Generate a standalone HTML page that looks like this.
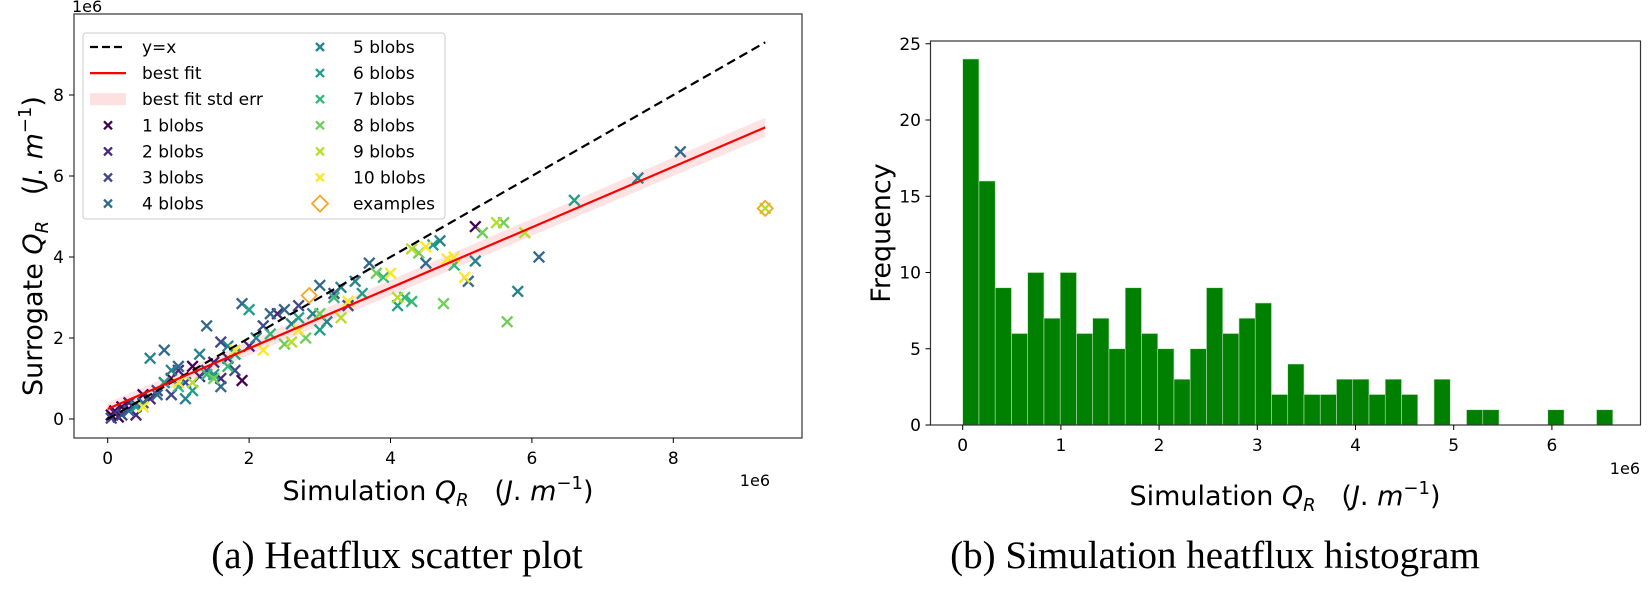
<!DOCTYPE html>
<html><head><meta charset="utf-8"><style>
body{margin:0;background:#fff}
svg{display:block;font-family:"DejaVu Sans","Liberation Sans",sans-serif}
</style></head><body>
<svg id="s" width="1650" height="589" viewBox="0 0 1650 589" xmlns="http://www.w3.org/2000/svg">
<g id="left"></g>
<g id="right"></g>
<text x="397" y="568" font-family="Liberation Serif,serif" font-size="39" text-anchor="middle">(a)  Heatflux scatter plot</text>
<text x="1215" y="568" font-family="Liberation Serif,serif" font-size="39" text-anchor="middle">(b)  Simulation heatflux histogram</text>
</svg>
<script>
const blobColors=["#440154","#482878","#3e4989","#31688e","#26828e","#1f9e89","#35b779","#6ece58","#b5de2b","#fde725"];
const blob1=[[0.05,0.1],[0.1,0.2],[0.2,0.3],[0.3,0.25],[0.5,0.6],[0.9,1.0],[1.2,1.3],[1.9,0.95],[5.2,4.75],[0.15,0.05]];
const blob2=[[0.1,0.15],[0.3,0.4],[0.6,0.5],[0.8,0.9],[1.0,1.2],[1.3,1.05],[1.5,1.4],[1.7,1.5],[2.0,1.8],[2.4,2.6],[1.6,1.0],[0.4,0.1]];
const blob3=[[0.05,0.02],[0.2,0.1],[0.4,0.35],[0.7,0.7],[1.1,0.9],[1.4,1.2],[1.8,1.2],[2.2,2.3],[3.2,3.1],[3.4,2.8],[0.9,0.6],[1.6,1.9],[2.7,2.8]];
const blob4=[[0.3,0.2],[0.5,0.4],[0.8,1.7],[0.7,0.6],[1.0,1.3],[1.4,2.3],[1.9,2.85],[2.5,2.7],[3.0,3.3],[3.7,3.85],[4.5,3.85],[5.1,3.4],[8.1,6.6],[6.1,4.0],[1.6,0.8],[2.3,2.6]];
const blob5=[[0.6,1.5],[0.9,1.2],[1.3,1.6],[1.7,1.8],[2.1,2.0],[2.6,2.35],[3.1,2.4],[3.3,3.25],[3.5,3.4],[4.7,4.4],[5.2,3.9],[5.8,3.15],[7.5,5.95],[2.9,2.6],[1.1,0.5]];
const blob6=[[0.4,0.3],[0.8,0.9],[1.2,0.7],[1.5,1.1],[2.0,2.7],[2.7,2.5],[3.0,2.2],[3.6,3.1],[4.1,2.8],[4.6,4.3],[6.6,5.4],[1.8,1.6]];
const blob7=[[1.0,0.8],[1.4,1.1],[2.3,2.1],[3.2,3.0],[3.9,3.5],[4.2,3.0],[4.9,3.8],[4.3,2.9],[1.7,1.3]];
const blob8=[[1.5,1.0],[2.5,1.85],[3.0,2.6],[3.8,3.6],[4.4,4.1],[4.75,2.85],[5.6,4.85],[5.65,2.4],[5.3,4.6],[2.8,2.0]];
const blob9=[[1.2,0.9],[2.6,1.9],[3.3,2.5],[4.1,3.0],[5.5,4.85],[5.9,4.6],[4.3,4.2],[9.3,5.2]];
const blob10=[[0.5,0.3],[1.0,0.9],[1.8,1.7],[2.7,2.2],[3.4,2.9],[4.0,3.6],[4.5,4.25],[4.9,4.0],[5.05,3.5],[4.8,3.95],[2.2,1.7]];
const examples=[[2.85,3.05],[9.3,5.2]];
const fitStart=[0,0.25], fitEnd=[9.3,7.2], fitErr=0.15;
const xTicks=[0,2,4,6,8], yTicks=[0,2,4,6,8];
const histCounts=[24,16,9,6,10,7,10,6,7,5,9,6,5,3,5,9,6,7,8,2,4,2,2,3,3,2,3,2,0,3,0,1,1,0,0,0,1,0,0,1];
const histBinWidth=0.1655;
const histXTicks=[0,1,2,3,4,5,6], histYTicks=[0,5,10,15,20,25];
const NS="http://www.w3.org/2000/svg";
function mk(p,t,a,txt){const e=document.createElementNS(NS,t);for(const k in a)e.setAttribute(k,a[k]);if(txt!==undefined)e.textContent=txt;p.appendChild(e);return e;}
const QLABEL='<tspan font-style="italic">Q</tspan><tspan font-style="italic" font-size="18" dy="6">R</tspan><tspan dy="-6" xml:space="preserve">   (</tspan><tspan font-style="italic">J</tspan>. <tspan font-style="italic">m</tspan><tspan font-size="18" dy="-11">−1</tspan><tspan dy="11">)</tspan>';
const L=document.getElementById('left');
const lx=v=>107.7+70.7*v, ly=v=>419-40.5*v;
let e;
e=mk(L,'rect',{x:74,y:14,width:728,height:424,fill:'none',stroke:'#333','stroke-width':1.2});

xTicks.forEach(v=>{mk(L,'line',{x1:lx(v),x2:lx(v),y1:438,y2:443,stroke:'#000'});
 e=mk(L,'text',{x:lx(v),y:464,'font-size':17,'text-anchor':'middle'},String(v));
 });
yTicks.forEach(v=>{mk(L,'line',{x1:69,x2:74,y1:ly(v),y2:ly(v),stroke:'#000'});
 e=mk(L,'text',{x:64,y:ly(v)+6,'font-size':17,'text-anchor':'end'},String(v));
 });
e=mk(L,'text',{x:72,y:12,'font-size':16},'1e6');
e=mk(L,'text',{x:770,y:486,'font-size':16,'text-anchor':'end'},'1e6');
e=mk(L,'text',{x:438,y:500,'font-size':27,'text-anchor':'middle'});
e.innerHTML='Simulation '+QLABEL;

e=mk(L,'text',{x:0,y:0,'font-size':27,'text-anchor':'middle',transform:'translate(42,246) rotate(-90)'});
e.innerHTML='Surrogate '+QLABEL;

const fy=x=>fitStart[1]+(fitEnd[1]-fitStart[1])*(x-fitStart[0])/(fitEnd[0]-fitStart[0]);
e=mk(L,'polygon',{points:[[0,fy(0)+fitErr],[9.3,fy(9.3)+fitErr*1.6],[9.3,fy(9.3)-fitErr*1.6],[0,fy(0)-fitErr]].map(p=>lx(p[0])+','+ly(p[1])).join(' '),fill:'#fcdcdc',opacity:0.8});

const blobs=[blob1,blob2,blob3,blob4,blob5,blob6,blob7,blob8,blob9,blob10];
blobs.forEach((arr,i)=>arr.forEach(p=>{const x=lx(p[0]),y=ly(p[1]),r=5.3;
 const g=mk(L,'path',{d:`M${x-r},${y-r}L${x+r},${y+r}M${x-r},${y+r}L${x+r},${y-r}`,stroke:blobColors[i],'stroke-width':2.3});
 }));
e=mk(L,'line',{x1:lx(0),y1:ly(0),x2:lx(9.3),y2:ly(9.3),stroke:'#000','stroke-width':2.2,'stroke-dasharray':'9,5'});

e=mk(L,'line',{x1:lx(fitStart[0]),y1:ly(fitStart[1]),x2:lx(fitEnd[0]),y2:ly(fitEnd[1]),stroke:'#f00','stroke-width':2.2});

examples.forEach(p=>{const x=lx(p[0]),y=ly(p[1]),r=7.5;
 const g=mk(L,'polygon',{points:`${x},${y-r} ${x+r},${y} ${x},${y+r} ${x-r},${y}`,fill:'none',stroke:'#f5a623','stroke-width':1.8});
 });
const Lg=mk(L,'g',{});
mk(Lg,'rect',{x:83,y:33,width:362,height:186,rx:3,fill:'#fff','fill-opacity':0.85,stroke:'#ccc'});
const labels1=['y=x','best fit','best fit std err','1 blobs','2 blobs','3 blobs','4 blobs'];
const labels2=['5 blobs','6 blobs','7 blobs','8 blobs','9 blobs','10 blobs','examples'];
const rowY=i=>47+26.1*i;
labels1.forEach((t,i)=>{const y=rowY(i);
 if(i===0)mk(Lg,'line',{x1:90,x2:126,y1:y,y2:y,stroke:'#000','stroke-width':2.2,'stroke-dasharray':'8,4'});
 else if(i===1)mk(Lg,'line',{x1:90,x2:126,y1:y,y2:y,stroke:'#f00','stroke-width':2.2});
 else if(i===2)mk(Lg,'rect',{x:90,y:y-6,width:36,height:12,fill:'#fde0e0'});
 else {const x=108,r=4;mk(Lg,'path',{d:`M${x-r},${y-r}L${x+r},${y+r}M${x-r},${y+r}L${x+r},${y-r}`,stroke:blobColors[i-3],'stroke-width':2.3});}
 e=mk(Lg,'text',{x:142,y:y+6,'font-size':17},t);});
labels2.forEach((t,i)=>{const y=rowY(i),x=320;
 if(i<6){const r=4;mk(Lg,'path',{d:`M${x-r},${y-r}L${x+r},${y+r}M${x-r},${y+r}L${x+r},${y-r}`,stroke:blobColors[i+4],'stroke-width':2.3});}
 else {const r=8;mk(Lg,'polygon',{points:`${x},${y-r} ${x+r},${y} ${x},${y+r} ${x-r},${y}`,fill:'none',stroke:'#f5a623','stroke-width':1.8});}
 e=mk(Lg,'text',{x:353,y:y+6,'font-size':17},t);});
const R=document.getElementById('right');
const hx=v=>962.7+98.2*v, hy=v=>425-15.25*v;
histCounts.forEach((c,i)=>{if(!c)return;
 const b=mk(R,'rect',{x:hx(i*histBinWidth),y:hy(c),width:hx((i+1)*histBinWidth)-hx(i*histBinWidth),height:425-hy(c),fill:'#008000',stroke:'#bfe3bf','stroke-width':0.6});
 });
e=mk(R,'rect',{x:930.5,y:41,width:710,height:384,fill:'none',stroke:'#333','stroke-width':1.2});

histXTicks.forEach(v=>{mk(R,'line',{x1:hx(v),x2:hx(v),y1:425,y2:430,stroke:'#000'});
 e=mk(R,'text',{x:hx(v),y:451,'font-size':17,'text-anchor':'middle'},String(v));
 });
histYTicks.forEach(v=>{mk(R,'line',{x1:925.5,x2:930.5,y1:hy(v),y2:hy(v),stroke:'#000'});
 e=mk(R,'text',{x:921,y:hy(v)+6,'font-size':17,'text-anchor':'end'},String(v));
 });
e=mk(R,'text',{x:1640,y:474,'font-size':16,'text-anchor':'end'},'1e6');
e=mk(R,'text',{x:1285,y:505,'font-size':27,'text-anchor':'middle'});
e.innerHTML='Simulation '+QLABEL;

e=mk(R,'text',{x:0,y:0,'font-size':27,'text-anchor':'middle',transform:'translate(890,233) rotate(-90)'},'Frequency');

</script>
</body></html>
